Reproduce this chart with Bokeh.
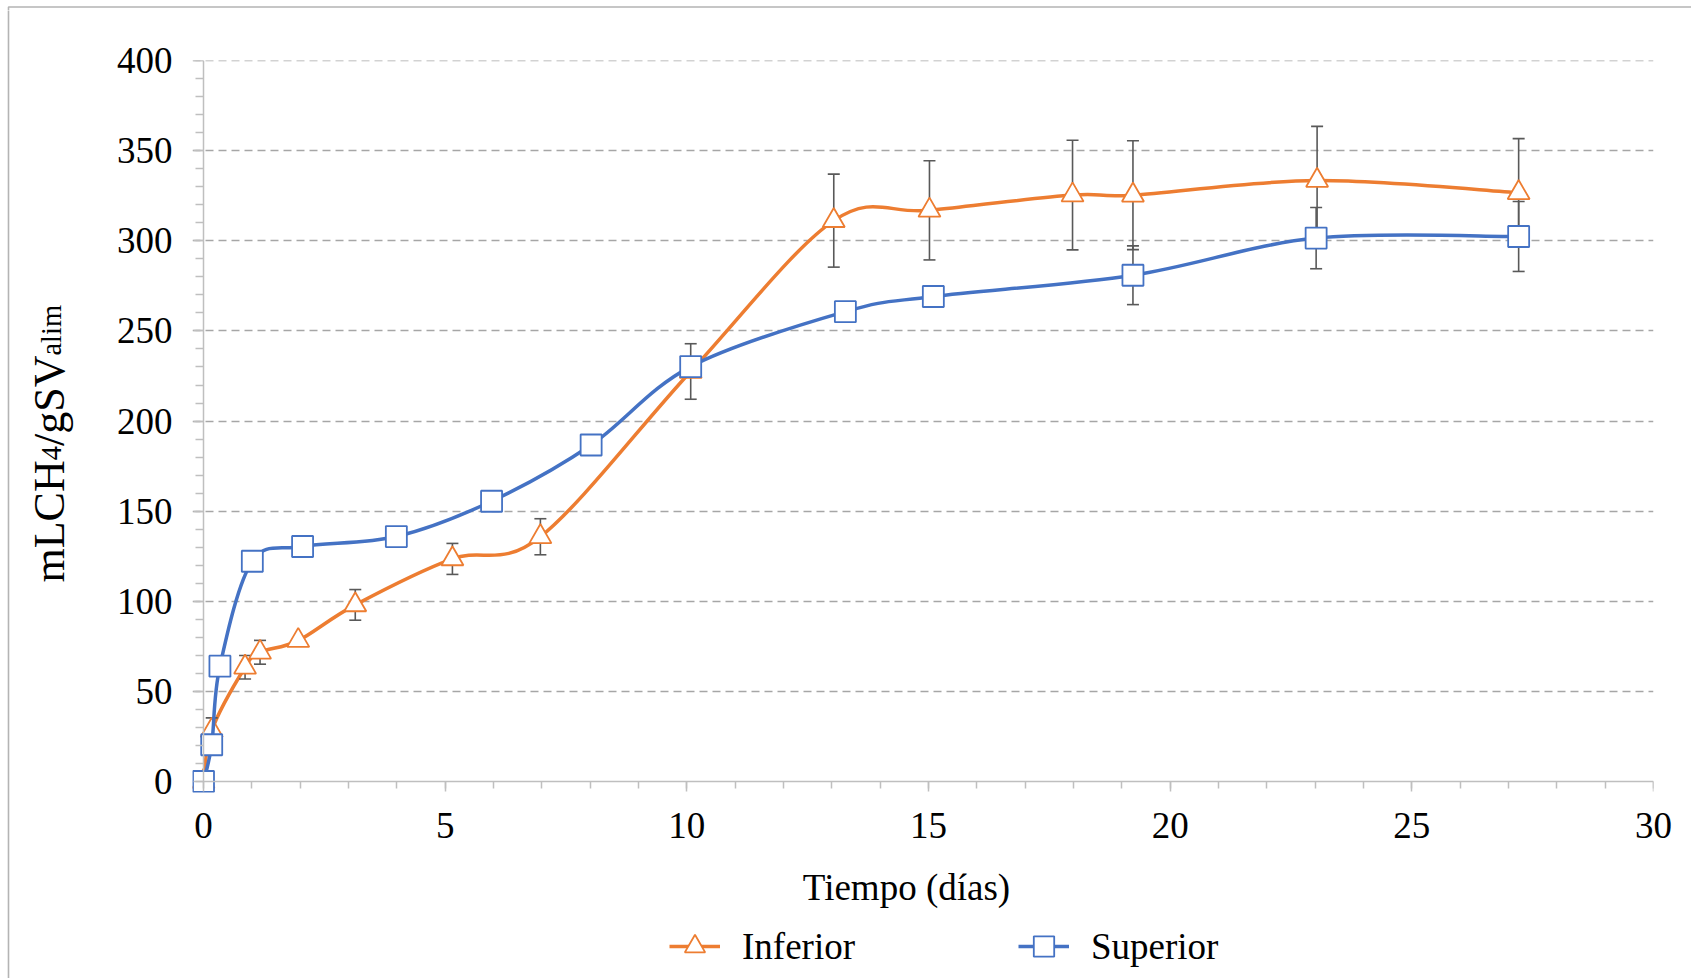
import math
from bokeh.plotting import figure
from bokeh.layouts import row, column
from bokeh.models import (Range1d, SingleIntervalTicker, FixedTicker, Legend, LegendItem, LinearAxis)
from bokeh.core.properties import value
from bokeh.embed import file_html
from bokeh.resources import INLINE

# ---------------- data ----------------
inf_days = [0, 0.17, 0.86, 1.17, 1.96, 3.14, 5.15, 6.97, 10.08, 13.04, 15.02, 17.98, 19.23, 23.04, 27.21]
inf_vals = [0, 28.3, 63.4, 71.7, 78.2, 98.0, 123.5, 135.8, 227.5, 311.2, 316.9, 325.4, 325.3, 333.5, 326.7]
inf_err  = [0, 7.0, 6.5, 6.6, 0, 8.5, 8.6, 10.0, 15.4, 25.8, 27.5, 30.4, 30.2, 30.0, 30.0]

sup_days = [0, 0.17, 0.34, 1.01, 2.05, 3.99, 5.96, 8.02, 10.08, 13.28, 15.10, 19.23, 23.02, 27.21]
sup_vals = [0, 20.4, 64.0, 122.2, 130.4, 135.9, 155.5, 186.7, 230.2, 260.7, 269.1, 280.9, 301.5, 302.4]
sup_err  = [0, 0, 0, 0, 0, 0, 0, 0, 0, 0, 0, 16.3, 17.0, 19.4]

x_ticks = [0, 5, 10, 15, 20, 25, 30]
y_ticks = [0, 50, 100, 150, 200, 250, 300, 350, 400]
series_names = ["Inferior", "Superior"]
x_title = "Tiempo (días)"
y_title_parts = ["mLCH", "4", "/gSV", "alim"]
y_title_is_sub = [False, True, False, True]

ORANGE = "#ED7D31"
BLUE = "#4472C4"
ERR = "#595959"
AXIS = "#BFBFBF"
GRID = "#A6A6A6"
BORDER = "#B4B4B4"
FONT = "Liberation Serif"

# ---------------- layout (canvas pixels) ----------------
W, H = 1691, 978
TS = 10             # top strip height (chart border)
LW = 100            # left strip width (y title)
BS = 862            # canvas y where the bottom strip (x title, legend) starts
AX_L, AX_T, AX_W, AX_H = 203, 60, 1450, 721   # axes box: x 0..30, y 0..400
AX_B = AX_T + AX_H
EXT = 11            # frame margin left of / below the axes so edge markers are not cut
PXD = AX_W / (x_ticks[-1] - x_ticks[0])
PYV = AX_H / (y_ticks[-1] - y_ticks[0])
FR_L = AX_L - EXT
FR_B = AX_B + EXT


def bare(fig):
    fig.outline_line_color = None
    fig.grid.visible = False
    fig.background_fill_color = "white"
    fig.border_fill_color = "white"
    return fig


# ---- top strip: chart border ----
topfull = bare(figure(width=W, height=TS, x_range=Range1d(0, W), y_range=Range1d(0, TS),
                      min_border=0, x_axis_location=None, y_axis_location=None,
                      output_backend="svg", toolbar_location=None))
topfull.line(x=[8, 8, W + 5], y=[-5, TS - 4.5, TS - 4.5], line_color=BORDER, line_width=1.6)

# ---- left strip: y title and chart border ----
left = bare(figure(width=LW, height=H - TS, x_range=Range1d(0, LW), y_range=Range1d(0, H - TS),
                   min_border=0, x_axis_location=None, y_axis_location=None,
                   output_backend="svg", toolbar_location=None))
left.line(x=[8, 8], y=[-5, H - TS + 5], line_color=BORDER, line_width=1.6)

BIG, SMALL = 44, 28.5
em = {"mLCH": 2.778, "4": 0.5, "/gSV": 2.056, "alim": 1.778}
pos = 582.0
big_x, big_y, big_t, sm_x, sm_y, sm_t = [], [], [], [], [], []
for part, sub in zip(y_title_parts, y_title_is_sub):
    fs = SMALL if sub else BIG
    if sub:
        sm_x.append(51); sm_y.append(H - pos); sm_t.append(part)
    else:
        big_x.append(49); big_y.append(H - pos); big_t.append(part)
    pos -= em[part] * fs
left.text(x=big_x, y=big_y, text=big_t, angle=math.pi / 2, text_align="left",
          text_baseline="alphabetic", text_font=value(FONT), text_font_size=f"{BIG}px",
          text_color="black")
left.text(x=sm_x, y=sm_y, text=sm_t, angle=math.pi / 2, text_align="left",
          text_baseline="alphabetic", text_font=value(FONT), text_font_size=f"{SMALL}px",
          text_color="black")

# ---- main chart ----
p = figure(frame_width=AX_W + EXT, frame_height=AX_H + EXT,
           min_border_left=FR_L - LW, min_border_right=W - AX_L - AX_W,
           min_border_top=AX_T - TS, min_border_bottom=BS - FR_B, output_backend="svg",
           toolbar_location=None,
           x_range=Range1d(x_ticks[0] - EXT / PXD, x_ticks[-1]),
           y_range=Range1d(y_ticks[0] - EXT / PYV, y_ticks[-1] + 0.05))
bare(p)

x_ticker = SingleIntervalTicker(interval=5, num_minor_ticks=5)
y_ticker = SingleIntervalTicker(interval=50, num_minor_ticks=5)

# label-only axes at the frame edges
for ax, tk, so in ((p.xaxis[0], x_ticker, 20), (p.yaxis[0], y_ticker, 20)):
    ax.ticker = tk
    ax.axis_line_color = None
    ax.major_tick_line_color = None
    ax.minor_tick_line_color = None
    ax.major_tick_in = 0
    ax.major_tick_out = 0
    ax.minor_tick_in = 0
    ax.minor_tick_out = 0
    ax.major_label_standoff = so
    ax.major_label_text_font = FONT
    ax.major_label_text_font_size = "37px"
    ax.major_label_text_color = "black"

# axis lines and ticks drawn at x = 0 / y = 0
x_line = LinearAxis(fixed_location=x_ticks[0] * 0 + y_ticks[0], bounds=(x_ticks[0], x_ticks[-1]),
                    ticker=x_ticker, major_tick_in=10, major_tick_out=0, minor_tick_in=7,
                    minor_tick_out=0, major_label_standoff=0,
                    major_label_overrides={t: "" for t in x_ticks})
y_line = LinearAxis(fixed_location=x_ticks[0], bounds=(y_ticks[0], y_ticks[-1]),
                    ticker=y_ticker, major_tick_in=10, major_tick_out=0, minor_tick_in=8,
                    minor_tick_out=0, major_label_standoff=0,
                    major_label_overrides={t: "" for t in y_ticks})
for ax in (x_line, y_line):
    ax.axis_line_color = AXIS
    ax.axis_line_width = 1.5
    ax.major_tick_line_color = AXIS
    ax.minor_tick_line_color = AXIS
    ax.major_tick_line_width = 1.5
    ax.minor_tick_line_width = 1.5
p.add_layout(x_line, "above")
p.add_layout(y_line, "right")

p.ygrid.visible = True
p.ygrid.ticker = FixedTicker(ticks=y_ticks[1:])
p.ygrid.grid_line_color = GRID
p.ygrid.grid_line_dash = "8 5"
p.ygrid.grid_line_width = 1.4


def smooth(xs, ys):
    n = len(xs)
    out = dict(x0=[], y0=[], x1=[], y1=[], cx0=[], cy0=[], cx1=[], cy1=[])
    for i in range(n - 1):
        a = i - 1 if i > 0 else i
        b = i + 2 if i + 2 < n else i + 1
        out["x0"].append(xs[i]); out["y0"].append(ys[i])
        out["x1"].append(xs[i + 1]); out["y1"].append(ys[i + 1])
        out["cx0"].append(xs[i] + (xs[i + 1] - xs[a]) / 6)
        out["cy0"].append(ys[i] + (ys[i + 1] - ys[a]) / 6)
        out["cx1"].append(xs[i + 1] - (xs[b] - xs[i]) / 6)
        out["cy1"].append(ys[i + 1] - (ys[b] - ys[i]) / 6)
    return out


CAP = 6 / PXD
LINE_W, MK_LW = 3.5, 1.8


def draw_series(xs, ys, es, color, marker, msize):
    p.bezier(line_color=color, line_width=LINE_W, **smooth(xs, ys))
    ex = [x for x, e in zip(xs, es) if e > 0]
    ev = [v for v, e in zip(ys, es) if e > 0]
    ee = [e for e in es if e > 0]
    if ex:
        p.segment(x0=ex, x1=ex, y0=[v - e for v, e in zip(ev, ee)], y1=[v + e for v, e in zip(ev, ee)],
                  line_color=ERR, line_width=1.6)
        for sgn in (-1, 1):
            yy = [v + sgn * e for v, e in zip(ev, ee)]
            p.segment(x0=[x - CAP for x in ex], x1=[x + CAP for x in ex], y0=yy, y1=yy,
                      line_color=ERR, line_width=1.6)
    p.scatter(xs, ys, marker=marker, size=msize, fill_color="white", line_color=color,
              line_width=MK_LW)


draw_series(inf_days, inf_vals, inf_err, ORANGE, "triangle", 22)
draw_series(sup_days, sup_vals, sup_err, BLUE, "square", 21)

# ---- bottom strip: x title and legend ----
bottom = bare(figure(width=W - LW, height=H - BS, x_range=Range1d(FR_L, AX_L + AX_W),
                     y_range=Range1d(0, H - BS), min_border_left=FR_L - LW,
                     min_border_right=W - AX_L - AX_W, min_border_top=0, min_border_bottom=0,
                     x_axis_location=None, y_axis_location=None,
                     output_backend="svg", toolbar_location=None))
bottom.text(x=[906], y=[H - 887], text=[x_title], text_align="center", text_baseline="alphabetic",
            text_font=value(FONT), text_font_size="37px", text_color="black")

# legend swatches: renderers with no visible points, styled like the series
leg_items = []
nan = float("nan")
for name, color, marker in zip(series_names, [ORANGE, BLUE], ["triangle", "square"]):
    rl = bottom.line(x=[nan], y=[nan], line_color=color, line_width=LINE_W)
    rm = bottom.scatter(x=[nan], y=[nan], marker=marker, size=21, fill_color="white",
                        line_color=color, line_width=MK_LW)
    leg_items.append(LegendItem(label=name, renderers=[rl, rm]))

legend = Legend(items=leg_items, orientation="horizontal", location=(669 - FR_L, (H - 946) - 26),
                glyph_width=51, glyph_height=52, label_standoff=22, spacing=163,
                padding=0, margin=0, border_line_color=None, background_fill_alpha=0,
                label_text_font=FONT, label_text_font_size="37px", label_text_color="black")
bottom.add_layout(legend)

layout = column(topfull, row(left, column(p, bottom, spacing=0), spacing=0), spacing=0)
open("out.html", "w").write(file_html(layout, INLINE))
